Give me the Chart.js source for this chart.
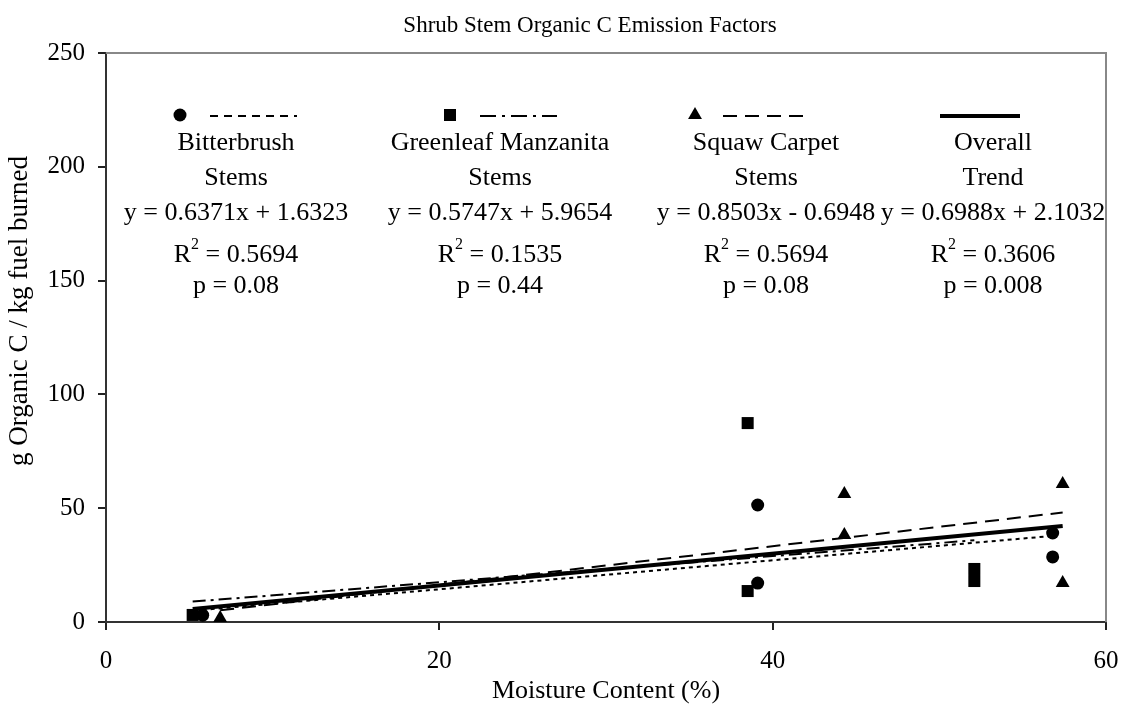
<!DOCTYPE html>
<html>
<head>
<meta charset="utf-8">
<title>Shrub Stem Organic C Emission Factors</title>
<script src="https://cdn.jsdelivr.net/npm/chart.js@4.4.1/dist/chart.umd.min.js"></script>
<style>
  html, body { margin: 0; padding: 0; background: #fff; }
  #wrap { width: 1123px; height: 715px; }
</style>
</head>
<body>
<div id="wrap"><canvas id="chart" width="1123" height="715"></canvas></div>
<script>
const FONT = '"Liberation Serif", "Times New Roman", serif';
const TITLE = 'Shrub Stem Organic C Emission Factors';
const Y_TITLE = 'g Organic C / kg fuel burned';

// moisture content (%) and organic C emission factor (g/kg) per burn
const bitterbrushX = [5.8, 39.1, 39.1, 56.8, 56.8];
const bitterbrushY = [3.0, 51.4, 17.1, 39.1, 28.6];
const manzanitaX = [5.2, 38.5, 38.5, 52.1, 52.1];
const manzanitaY = [3.1, 87.4, 13.6, 23.3, 18.0];
const squawX = [6.85, 44.3, 44.3, 57.4, 57.4];
const squawY = [1.8, 56.2, 38.2, 60.6, 17.1];

// regression results, one entry per species plus the pooled fit
const fitNames = [['Bitterbrush', 'Stems'], ['Greenleaf Manzanita', 'Stems'], ['Squaw Carpet', 'Stems'], ['Overall', 'Trend']];
const fitSlopes = [0.6371, 0.5747, 0.8503, 0.6988];
const fitIntercepts = [1.6323, 5.9654, -0.6948, 2.1032];
const fitR2 = [0.5694, 0.1535, 0.5694, 0.3606];
const fitP = [0.08, 0.44, 0.08, 0.008];

const toPoints = (xs, ys) => xs.map((x, i) => ({ x: x, y: ys[i] }));

function fitLine(xs, slope, intercept) {
    const lo = Math.min(...xs), hi = Math.max(...xs);
    return [{ x: lo, y: slope * lo + intercept }, { x: hi, y: slope * hi + intercept }];
}

const allX = [...bitterbrushX, ...manzanitaX, ...squawX];

const dashes = [[4, 4], [13, 5, 3, 5], [14, 8], []];
const legendDashes = [[8, 6], [16, 6, 3, 6], [14, 8], []];
const markers = [
    { pointStyle: 'circle', radius: 6.5 },
    { pointStyle: 'rect', radius: 8.5 },
    { pointStyle: 'triangle', radius: 8 },
    null
];

function points(xs, ys, m) {
    return {
        data: toPoints(xs, ys),
        showLine: false,
        pointStyle: m.pointStyle,
        pointRadius: m.radius,
        pointBackgroundColor: '#000',
        pointBorderWidth: 0,
        order: 1
    };
}

function trend(xs, i) {
    return {
        data: fitLine(xs, fitSlopes[i], fitIntercepts[i]),
        showLine: true,
        pointRadius: 0,
        borderColor: '#000',
        borderWidth: i === 3 ? 4 : 2,
        borderDash: dashes[i],
        order: 2
    };
}

function eqText(i) {
    const b = fitIntercepts[i];
    return 'y = ' + fitSlopes[i].toFixed(4) + 'x ' + (b < 0 ? '- ' : '+ ') + Math.abs(b).toFixed(4);
}

// titles, plot frame and the fit summaries with marker + line samples
const fitBoxes = {
    id: 'fitBoxes',
    afterDraw(chart) {
        const ctx = chart.ctx;
        const area = chart.chartArea;
        ctx.save();

        ctx.fillStyle = '#000';
        ctx.font = '23px ' + FONT;
        ctx.textAlign = 'center';
        ctx.textBaseline = 'middle';
        ctx.fillText(TITLE, 590, 26);

        ctx.save();
        ctx.translate(20, 311);
        ctx.rotate(-Math.PI / 2);
        ctx.font = '27px ' + FONT;
        ctx.fillText(Y_TITLE, 0, 0);
        ctx.restore();

        // grey frame on the top and right of the plot
        ctx.strokeStyle = '#888';
        ctx.lineWidth = 2;
        ctx.beginPath();
        ctx.moveTo(area.left, area.top);
        ctx.lineTo(area.right, area.top);
        ctx.lineTo(area.right, area.bottom);
        ctx.stroke();

        const centers = [236, 500, 766, 993];
        const markX = [180, 450, 695, null];
        const lineX = [[210, 297], [480, 557], [723, 803], [940, 1020]];
        const rows = [143, 178, 213, 255, 286];
        const big = '26px ' + FONT, small = '16px ' + FONT;

        ctx.strokeStyle = '#000';
        centers.forEach((cx, i) => {
            if (markers[i]) {
                Chart.helpers.drawPoint(ctx, { pointStyle: markers[i].pointStyle, radius: markers[i].radius, rotation: 0, borderWidth: 0 }, markX[i], 115);
            }
            ctx.lineWidth = i === 3 ? 4 : 2;
            ctx.setLineDash(legendDashes[i]);
            ctx.beginPath();
            ctx.moveTo(lineX[i][0], 116);
            ctx.lineTo(lineX[i][1], 116);
            ctx.stroke();
            ctx.setLineDash([]);

            ctx.font = big;
            ctx.textAlign = 'center';
            ctx.textBaseline = 'middle';
            ctx.fillText(fitNames[i][0], cx, rows[0]);
            ctx.fillText(fitNames[i][1], cx, rows[1]);
            ctx.fillText(eqText(i), cx, rows[2]);
            ctx.fillText('p = ' + fitP[i], cx, rows[4]);

            // R squared with a raised 2
            const tail = ' = ' + fitR2[i].toFixed(4);
            ctx.textAlign = 'left';
            const wR = ctx.measureText('R').width;
            const wT = ctx.measureText(tail).width;
            ctx.font = small;
            const w2 = ctx.measureText('2').width;
            const x = cx - (wR + w2 + wT) / 2;
            ctx.font = big;
            ctx.fillText('R', x, rows[3]);
            ctx.font = small;
            ctx.fillText('2', x + wR, rows[3] - 10);
            ctx.font = big;
            ctx.fillText(tail, x + wR + w2, rows[3]);
        });
        ctx.restore();
    }
};

Chart.defaults.color = '#000';
Chart.defaults.font.family = FONT;
Chart.defaults.font.size = 25;

new Chart(document.getElementById('chart'), {
    type: 'scatter',
    data: {
        datasets: [
            points(bitterbrushX, bitterbrushY, markers[0]),
            points(manzanitaX, manzanitaY, markers[1]),
            points(squawX, squawY, markers[2]),
            trend(bitterbrushX, 0),
            trend(manzanitaX, 1),
            trend(squawX, 2),
            trend(allX, 3)
        ]
    },
    options: {
        responsive: false,
        animation: false,
        layout: { padding: { left: 0, right: 17, top: 53, bottom: 0 } },
        plugins: {
            legend: { display: false },
            tooltip: { enabled: false },
            title: { display: false }
        },
        scales: {
            x: {
                type: 'linear',
                min: 0,
                max: 60,
                ticks: { stepSize: 20, padding: 16 },
                grid: { drawOnChartArea: false, tickLength: 8, color: '#222', lineWidth: 2 },
                border: { color: '#333', width: 2 },
                title: { display: true, text: 'Moisture Content (%)', font: { size: 26 }, padding: { top: 4, bottom: 8 } },
                afterFit(scale) {
                    scale.height = 93;
                    scale.paddingLeft = 0;
                    scale.paddingRight = 0;
                }
            },
            y: {
                min: 0,
                max: 250,
                ticks: { stepSize: 50, padding: 13 },
                grid: { drawOnChartArea: false, tickLength: 8, color: '#222', lineWidth: 2 },
                border: { color: '#333', width: 2 },
                afterFit(scale) {
                    scale.width = 106;
                    scale.paddingTop = 0;
                    scale.paddingBottom = 0;
                }
            }
        }
    },
    plugins: [fitBoxes]
});
</script>
</body>
</html>
